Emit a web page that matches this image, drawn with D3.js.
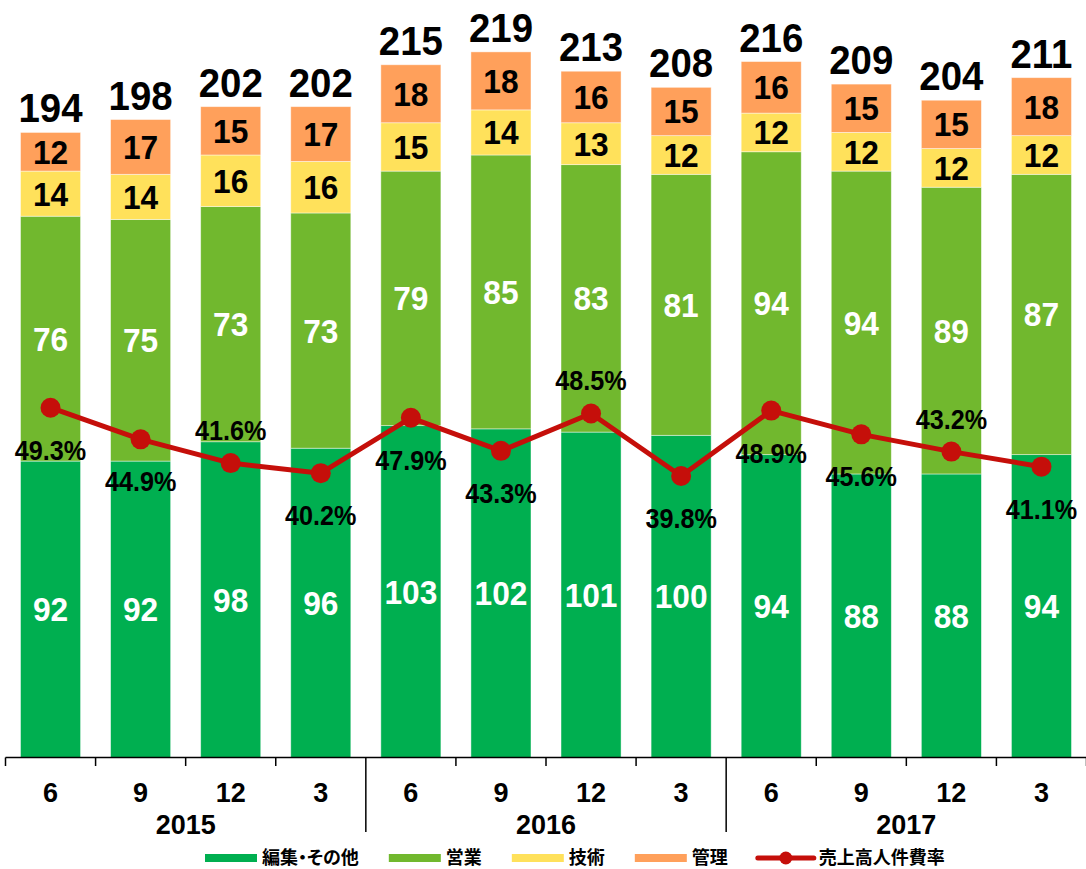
<!DOCTYPE html>
<html><head><meta charset="utf-8">
<script src="https://cdn.jsdelivr.net/npm/d3@7"></script>
<style>body{margin:0;background:#fff} svg{display:block} .leg{font-feature-settings:"palt" 1;}</style>
</head><body><svg id="c" width="1086" height="869"></svg>
<script>
const months = ["6","9","12","3","6","9","12","3","6","9","12","3"];
const years = ["2015","2016","2017"];
const editorial = [92,92,98,96,103,102,101,100,94,88,88,94];
const sales = [76,75,73,73,79,85,83,81,94,94,89,87];
const tech = [14,14,16,16,15,14,13,12,12,12,12,12];
const admin = [12,17,15,17,18,18,16,15,16,15,15,18];
const totals = [194,198,202,202,215,219,213,208,216,209,204,211];
const ratio = [49.3,44.9,41.6,40.2,47.9,43.3,48.5,39.8,48.9,45.6,43.2,41.1];
const ratioLabelSide = ["below","below","above","below","below","below","above","below","below","below","above","below"];
const seriesNames = ["編集・その他","営業","技術","管理"];
const lineName = "売上高人件費率";

const colors = ["#00AF50","#71B82E","#FFE15B","#FFA05B"];
const labelColors = ["#fff","#fff","#000","#000"];
const lineColor = "#C50F0A";
const numFont = "'Liberation Sans', Arial, sans-serif";
const cjkFont = "'Noto Sans CJK JP', sans-serif";

const svg = d3.select("#c");
const baseY = 757.5;
const x = d3.scaleBand().domain(d3.range(months.length)).range([5.5, 1086.5]).paddingInner(1/3).paddingOuter(1/6);
const y = d3.scaleLinear().domain([0, 220]).range([baseY, baseY - 220 * 3.222]);
const y2 = d3.scaleLinear().domain([0, 100]).range([762.2, 43.2]);

const rows = months.map((m, i) => ({i, s0: editorial[i], s1: sales[i], s2: tech[i], s3: admin[i]}));
const keys = ["s0","s1","s2","s3"];
const stacked = d3.stack().keys(keys)(rows);

const gBars = svg.append("g");
stacked.forEach((layer, k) => {
  const g = gBars.append("g");
  g.selectAll("rect").data(layer).join("rect")
    .attr("x", d => x(d.data.i))
    .attr("width", x.bandwidth())
    .attr("y", d => y(d[1]))
    .attr("height", d => y(d[0]) - y(d[1]))
    .attr("fill", colors[k])
    .attr("stroke", "rgba(255,255,255,0.55)")
    .attr("stroke-width", 0.8);
  g.selectAll("text").data(layer).join("text")
    .attr("transform", d => `translate(${x(d.data.i) + x.bandwidth() / 2},${(y(d[0]) + y(d[1])) / 2 + 12}) scale(0.96,1)`)
    .attr("text-anchor", "middle")
    .attr("font-family", numFont)
    .attr("font-weight", "bold")
    .attr("font-size", 33)
    .attr("fill", labelColors[k])
    .text(d => d.data[keys[k]]);
});

// totals
svg.append("g").selectAll("text").data(totals).join("text")
  .attr("transform", (d, i) => `translate(${x(i) + x.bandwidth() / 2},${y(d) - 10}) scale(0.96,1)`)
  .attr("text-anchor", "middle")
  .attr("font-family", numFont)
  .attr("font-weight", "bold")
  .attr("font-size", 40)
  .attr("fill", "#000")
  .text(d => d);

// axis
const step = x.step();
const half = step * x.paddingInner() / 2;
const bounds = d3.range(months.length + 1).map(i => i < months.length ? x(i) - half : x(months.length - 1) + x.bandwidth() + half);
const ax = svg.append("g");
ax.append("line").attr("x1", bounds[0]).attr("x2", bounds[bounds.length - 1])
  .attr("y1", baseY).attr("y2", baseY).attr("stroke", "#000").attr("stroke-width", 1.5);
ax.selectAll("line.t").data(bounds).join("line").attr("class", "t")
  .attr("x1", d => d).attr("x2", d => d)
  .attr("y1", baseY)
  .attr("y2", (d, i) => (i % 4 === 0 && i > 0 && i < months.length) ? 832 : 766)
  .attr("stroke", "#000").attr("stroke-width", 1.5);
ax.selectAll("text.m").data(months).join("text").attr("class", "m")
  .attr("x", (d, i) => x(i) + x.bandwidth() / 2)
  .attr("y", 801.5)
  .attr("text-anchor", "middle")
  .attr("font-family", numFont).attr("font-weight", "bold").attr("font-size", 27)
  .text(d => d);
ax.selectAll("text.yr").data(years).join("text").attr("class", "yr")
  .attr("x", (d, j) => (bounds[j * 4] + bounds[j * 4 + 4]) / 2)
  .attr("y", 834)
  .attr("text-anchor", "middle")
  .attr("font-family", numFont).attr("font-weight", "bold").attr("font-size", 27)
  .text(d => d);

// line
const cx = i => x(i) + x.bandwidth() / 2;
svg.append("path").datum(ratio)
  .attr("d", d3.line().x((d, i) => cx(i)).y(d => y2(d)))
  .attr("fill", "none").attr("stroke", lineColor).attr("stroke-width", 5).attr("stroke-linejoin", "round");
svg.append("g").selectAll("circle").data(ratio).join("circle")
  .attr("cx", (d, i) => cx(i)).attr("cy", d => y2(d)).attr("r", 10).attr("fill", lineColor);
svg.append("g").selectAll("text").data(ratio).join("text")
  .attr("transform", (d, i) => `translate(${cx(i)},${y2(d) + (ratioLabelSide[i] === "above" ? -33 : 42) + 10}) scale(0.9,1)`)
  .attr("text-anchor", "middle")
  .attr("font-family", numFont).attr("font-weight", "bold").attr("font-size", 28)
  .attr("fill", "#000")
  .text(d => d.toFixed(1) + "%");

// legend
const leg = svg.append("g").attr("class", "leg");
let lx = 205;
const ly = 858;
const items = seriesNames.map((n, k) => ({name: n, color: colors[k], type: "rect"}))
  .concat([{name: lineName, color: lineColor, type: "line"}]);
items.forEach(it => {
  if (it.type === "rect") {
    leg.append("rect").attr("x", lx).attr("y", ly - 4).attr("width", 52).attr("height", 8).attr("fill", it.color);
  } else {
    leg.append("line").attr("x1", lx).attr("x2", lx + 56).attr("y1", ly).attr("y2", ly)
      .attr("stroke", it.color).attr("stroke-width", 5).attr("stroke-linecap", "round");
    leg.append("circle").attr("cx", lx + 28).attr("cy", ly).attr("r", 6.5).attr("fill", it.color);
  }
  const sw = it.type === "rect" ? 52 : 56;
  const t = leg.append("text").attr("x", lx + sw + 5).attr("y", ly + 6)
    .attr("font-family", cjkFont).attr("font-weight", "bold").attr("font-size", 18)
    .attr("fill", "#000").text(it.name);
  lx += sw + 5 + t.node().getComputedTextLength() + 30;
});
</script></body></html>
